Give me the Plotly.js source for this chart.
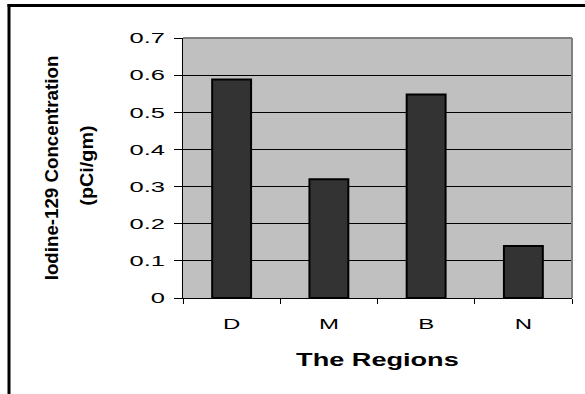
<!DOCTYPE html>
<html><head><meta charset="utf-8">
<script src="https://cdn.plot.ly/plotly-3.0.1.min.js"></script>
<style>html,body{margin:0;padding:0;background:#fff;overflow:hidden}</style>
</head><body><div id="chart" style="width:585px;height:394px"></div>
<script>
// ---- data ----
const regions = ['D', 'M', 'B', 'N'];
const concentration = [0.588, 0.32, 0.548, 0.14];
const yTickValues = [0, 0.1, 0.2, 0.3, 0.4, 0.5, 0.6, 0.7];
const yTickLabels = ['0', '0.1', '0.2', '0.3', '0.4', '0.5', '0.6', '0.7'];
const xTitleText = 'The Regions';
const yTitleLines = ['Iodine-129 Concentration', '(pCi/gm)'];

// ---- layout helpers (pixel -> paper) ----
const W = 585, H = 394;
const M = {l: 183, r: 13, t: 38, b: 96};
const PW = W - M.l - M.r, PH = H - M.t - M.b;
const px = x => (x - M.l) / PW;
const py = y => (H - M.b - y) / PH;
const FONT = 'Liberation Sans, Arial, Helvetica, sans-serif';

const data = [{
  type: 'bar',
  x: regions,
  y: concentration,
  marker: {color: '#333333', line: {color: '#000000', width: 2}},
  hoverinfo: 'skip'
}];

const layout = {
  width: W, height: H,
  margin: M,
  paper_bgcolor: '#ffffff',
  plot_bgcolor: '#c0c0c0',
  showlegend: false,
  bargap: 0.6,
  font: {family: FONT, color: '#000', size: 15},
  xaxis: {
    type: 'category',
    showgrid: false,
    showline: true, linecolor: '#000', linewidth: 1,
    ticks: 'outside', tickson: 'boundaries', ticklen: 5, tickcolor: '#000', tickwidth: 1,
    tickfont: {family: FONT, size: 15, color: '#000'},
    ticklabelstandoff: 12,
    title: {text: xTitleText, font: {family: FONT, size: 17.5, weight: 'bold', color: '#000'}, standoff: 22},
    fixedrange: true
  },
  yaxis: {
    range: [0, 0.7],
    tickvals: yTickValues, ticktext: yTickLabels,
    showgrid: true, gridcolor: '#000', gridwidth: 1,
    zeroline: false,
    showline: true, linecolor: '#000', linewidth: 1,
    ticks: 'outside', ticklen: 8, tickcolor: '#000', tickwidth: 1,
    tickfont: {family: FONT, size: 15, color: '#000'},
    ticklabelstandoff: 6,
    fixedrange: true
  },
  shapes: [
    {type: 'line', xref: 'paper', yref: 'paper', x0: 0, x1: 1, y0: 1, y1: 1, line: {color: '#808080', width: 2}},
    {type: 'line', xref: 'paper', yref: 'paper', x0: 1, x1: 1, y0: 0, y1: 1, line: {color: '#808080', width: 2}},
    {type: 'line', xref: 'paper', yref: 'paper', x0: px(7.5), x1: px(600), y0: py(5.5), y1: py(5.5), line: {color: '#000', width: 3}},
    {type: 'line', xref: 'paper', yref: 'paper', x0: px(9), x1: px(9), y0: py(4), y1: py(420), line: {color: '#000', width: 3}}
  ],
  annotations: [
    {xref: 'paper', yref: 'paper', x: px(52), y: py(168), xanchor: 'center', yanchor: 'middle',
     text: yTitleLines[0], textangle: -90, showarrow: false,
     font: {family: FONT, size: 18, weight: 'bold', color: '#000'}},
    {xref: 'paper', yref: 'paper', x: px(87), y: py(166), xanchor: 'center', yanchor: 'middle',
     text: yTitleLines[1], textangle: -90, showarrow: false,
     font: {family: FONT, size: 18, weight: 'bold', color: '#000'}}
  ]
};

function stretch(nodes, s) {
  nodes.forEach(function (t) {
    const b = t.getBBox();
    const anchor = t.getAttribute('text-anchor') || t.style.textAnchor || 'middle';
    let ax = b.x + b.width / 2;
    if (anchor === 'end') ax = b.x + b.width;
    else if (anchor === 'start') ax = b.x;
    const tr = t.getAttribute('transform') || '';
    t.setAttribute('transform', tr + ' translate(' + ax + ',0) scale(' + s + ',1) translate(' + (-ax) + ',0)');
  });
}

const gd = document.getElementById('chart');
Plotly.newPlot(gd, data, layout, {staticPlot: true, displayModeBar: false, responsive: false}).then(function () {
  try {
    stretch(gd.querySelectorAll('.ytick text'), 1.7);
    stretch(gd.querySelectorAll('.xtick text'), 1.6);
    stretch(gd.querySelectorAll('.g-xtitle text'), 1.55);
    const ann = gd.querySelectorAll('.annotation text');
    if (ann[0]) stretch([ann[0]], 1.04);
    if (ann[1]) stretch([ann[1]], 1.1);
  } catch (e) {}
});
</script>
</body></html>
